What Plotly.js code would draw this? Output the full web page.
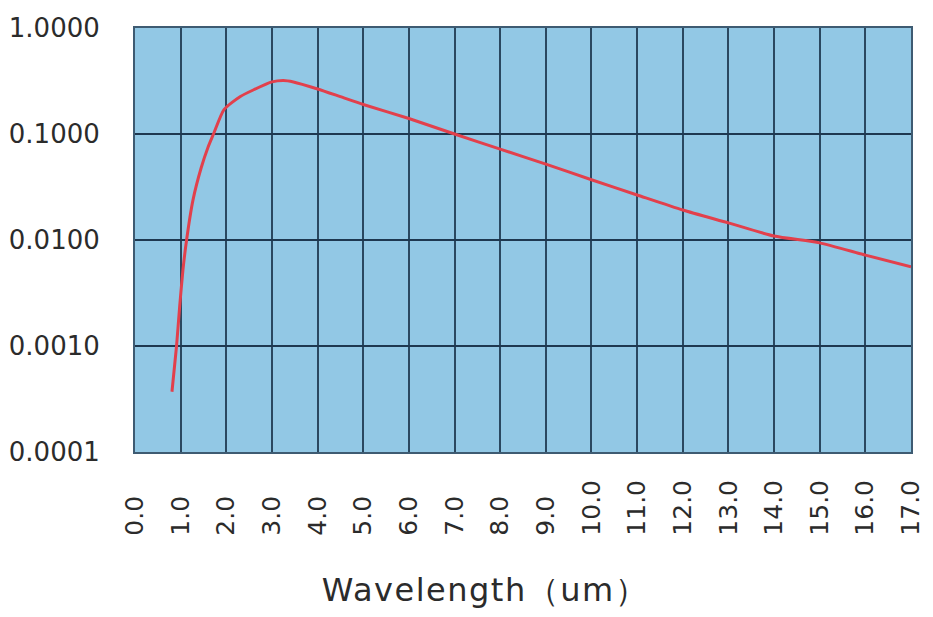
<!DOCTYPE html>
<html>
<head>
<meta charset="utf-8">
<script src="https://cdn.plot.ly/plotly-3.0.1.min.js"></script>
<style>
html,body{margin:0;padding:0;background:#fff;}
#chart{width:933px;height:617px;}
.xtitle{letter-spacing:1.5px; transform: translate(-38px, 0px);}
</style>
</head>
<body>
<div id="chart"></div>
<script>
// Wavelength (um)
const wavelength = [0.81, 0.91, 0.98, 1.05, 1.13, 1.27, 1.45, 1.6, 1.72, 1.95, 2.3, 2.59, 3.0, 3.25, 3.47, 4.0, 4.5, 5.0, 6.0, 7.0, 8.0, 9.0, 10.0, 11.0, 12.0, 13.0, 14.0, 15.0, 16.0, 17.0];
// Relative value (log scale)
const intensity = [0.00037, 0.001, 0.0024, 0.0052, 0.01, 0.0238, 0.048, 0.075, 0.1, 0.17, 0.225, 0.26, 0.31, 0.32, 0.31, 0.266, 0.225, 0.19, 0.14, 0.1, 0.072, 0.052, 0.037, 0.0266, 0.0192, 0.0145, 0.0109, 0.0094, 0.0072, 0.0056];

const xTickVals = [0,1,2,3,4,5,6,7,8,9,10,11,12,13,14,15,16,17];
const xTickText = ["0.0\u2007","1.0\u2007","2.0\u2007","3.0\u2007","4.0\u2007","5.0\u2007","6.0\u2007","7.0\u2007","8.0\u2007","9.0\u2007","10.0","11.0","12.0","13.0","14.0","15.0","16.0","17.0"];
const yTickVals = [0.0001, 0.001, 0.01, 0.1, 1];
const yTickText = ["0.0001","0.0010","0.0100","0.1000","1.0000"];

const gridColor = '#2a4860';

const trace = {
  x: wavelength,
  y: intensity,
  type: 'scatter',
  mode: 'lines',
  line: {color: '#e2404c', width: 3, shape: 'spline', smoothing: 0.6},
  hoverinfo: 'x+y'
};

const layout = {
  width: 933,
  height: 617,
  margin: {l: 135, r: 22, t: 28, b: 165},
  paper_bgcolor: '#ffffff',
  plot_bgcolor: '#92c8e5',
  showlegend: false,
  font: {family: 'DejaVu Sans, Arial, sans-serif', color: '#2b2b2b'},
  xaxis: {
    range: [0, 17],
    tickmode: 'array',
    tickvals: xTickVals,
    ticktext: xTickText,
    tickangle: -90,
    tickfont: {size: 25, family: 'DejaVu Sans, Arial, sans-serif', color: '#2b2b2b'},
    ticks: '',
    ticklabelstandoff: 16,
    showgrid: true,
    gridcolor: gridColor,
    gridwidth: 2,
    showline: true,
    linecolor: '#3e5b72',
    linewidth: 2,
    mirror: true,
    zeroline: false,
    automargin: false,
    title: {
      text: 'Wavelength（um）',
      font: {size: 32, family: 'DejaVu Sans, Arial, sans-serif', color: '#2b2b2b'},
      standoff: 44
    }
  },
  yaxis: {
    type: 'log',
    range: [-4, 0],
    tickmode: 'array',
    tickvals: yTickVals,
    ticktext: yTickText,
    tickfont: {size: 26, family: 'DejaVu Sans, Arial, sans-serif', color: '#2b2b2b'},
    ticks: '',
    ticklabelstandoff: 28,
    showgrid: true,
    gridcolor: '#1e3850',
    gridwidth: 2,
    showline: true,
    linecolor: '#3e5b72',
    linewidth: 2,
    mirror: true,
    zeroline: false,
    automargin: false
  }
};

Plotly.newPlot('chart', [trace], layout, {displayModeBar: false, staticPlot: true});
</script>
</body>
</html>
